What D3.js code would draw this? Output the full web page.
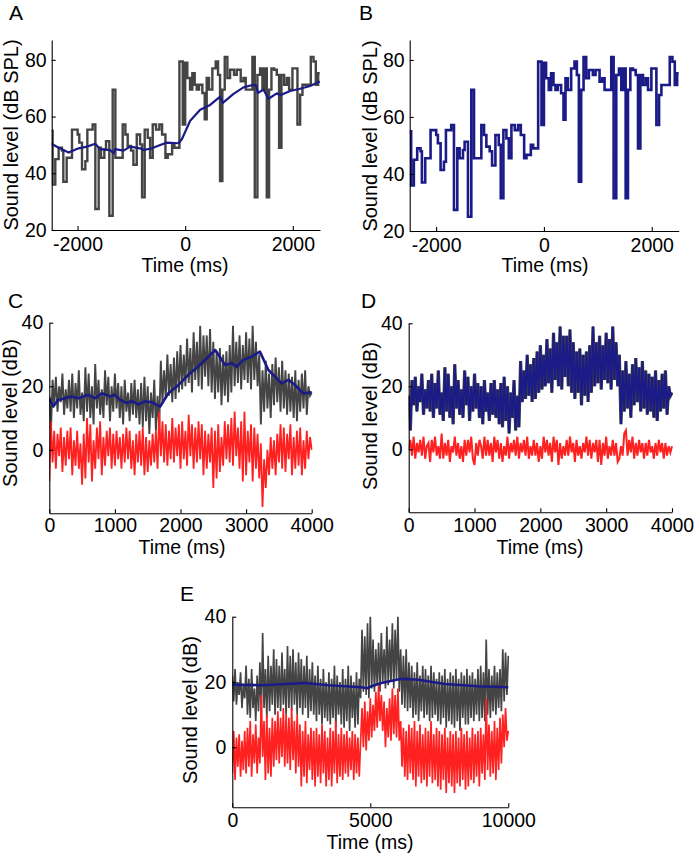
<!DOCTYPE html>
<html><head><meta charset="utf-8">
<script src="https://cdn.jsdelivr.net/npm/d3@7"></script>
<style>body{margin:0;background:#fff} svg{display:block} text{font-family:"Liberation Sans",Arial,sans-serif;}</style>
</head><body><svg id="fig" width="694" height="853"></svg>
<script>
// ---------- DATA ----------
// Panels A/B: stepped stimulus level (start time of each step, ms) and level (dB SPL)
const stepTimes = [-2500,-2463,-2413,-2351,-2289,-2264,-2202,-2103,-1998,-1967,-1917,-1855,-1818,-1719,-1669,-1607,-1564,-1502,-1471,-1409,-1347,-1297,-1161,-1111,-1068,-1006,-962,-900,-838,-801,-752,-696,-652,-603,-541,-479,-429,-367,-324,-243,-200,-107,-45,
  0,40,90,133,177,214,257,319,363,400,443,505,567,611,648,691,735,784,834,908,958,1032,1082,1125,1249,1293,1342,1392,1435,1479,1516,1559,1603,1652,1702,1745,1789,1838,1888,1931,1993,2086,2136,2179,2334,2384,2427,2471,2500];
const stepLevels = [55,36,45,49,48,37,45.5,55.4,53.7,50.8,41.4,44.3,55.4,57.2,27.4,49,45.5,48.4,51.3,25,69.5,45.5,57.2,53.7,49.6,48,43,53.7,50.2,31.5,55.4,52.5,45.5,57.2,55.4,57.2,53.7,45.5,46.7,50.2,49,79.4,57.2,
  79,73.6,69.5,75.3,71.2,69.5,71.2,68.3,59,73.6,69.5,77,79.4,74.7,37.3,69.5,81,73.6,76.5,74.7,76.5,72.4,73.6,69.5,81,31.5,74.7,77,69.5,77,31.5,69.5,77,76.5,74.7,49,74.7,71.2,73.6,69.5,77,57.2,67.7,71.2,81,79.4,71.2,75.3,75.3];
// Panel A: smoothed (adaptation) level
const smoothTimes = [-2500,-2352,-2166,-1980,-1825,-1671,-1579,-1393,-1331,-1300,-1145,-1022,-836,-774,-619,-464,-340,-124,-62,93,279,464,650,700,898,1083,1269,1319,1350,1455,1548,1703,1765,1950,2135,2321,2500];
const smoothLevels = [50.6,49,47.3,48.8,49.4,50.4,48.5,48.2,47,48.5,48,49.4,48.8,48.2,48.8,50,50.8,50.6,52,58.5,62.4,64.1,67,64.8,68,70.3,71.2,71,68.3,69.5,66.3,68.2,67.5,69,69.8,70.8,72.4];

// Panels C/D: sampled every 25 ms, 0..4000 ms
const cdStep = 25;
const cdGray = [17,6,22,14, 23,12,20,15, 24,11,19,13, 22,12,24,10, 21,13,25,11, 18,9,26,12, 24,10,20,8, 27,13,22,11, 19,10,25,14, 23,9,20,12,
  24,13,21,10, 20,8,22,12, 18,9,21,11, 22,10,19,8, 21,7,23,9, 20,5,18,10, 22,6,17,7, 28,15,25,16, 30,17,27,15, 29,16,31,18,
  33,19,30,20, 35,21,32,18, 37,22,34,20, 39,19,36,23, 36,20,38,18, 34,16,31,18, 32,14,30,17, 31,15,33,18, 39,20,34,21, 36,19,33,22,
  37,21,35,19, 39,22,34,20, 30,8,25,12, 28,13,24,10, 27,14,29,15, 26,12,28,13, 25,11,24,12, 23,10,25,9, 22,12,24,13, 25,11,20,17, 18];
const cRed = [-10,9,-4,6, -6,5,-2,7, -7,4,-5,6, -3,7,-8,3, -5,6,-6,2, -11,5,-9,10, -4,8,-10,3, -6,7,-3,9, -8,4,-5,6, -2,7,-6,5,
  -5,6,-3,4, -6,5,-4,7, -3,6,-6,3, -8,5,-4,6, -5,7,-8,4, -7,3,-5,5, -4,6,-6,12, -2,9,-4,8, -5,6,-3,10, -4,7,-2,8,
  -6,9,-3,6, -5,11,-2,8, -6,7,-4,9, -3,8,-8,6, -6,5,-4,7, -12,6,-9,8, -7,4,-5,9, -3,8,-4,10, -5,12,-2,7, -6,9,-10,12,
  -8,6,-4,8, -10,7,-6,5, -9,2,-18,-3, -12,0,-8,4, -6,3,-8,5, -4,8,-6,7, -7,5,-3,8, -8,4,-6,6, -5,7,-8,3, -6,6,-3,4, 0];
const cBlueTimes = [0,60,135,340,440,595,700,800,925,1000,1080,1180,1255,1355,1460,1560,1690,1815,1970,2120,2270,2375,2530,2680,2780,2855,2960,3085,3210,3340,3440,3540,3645,3745,3870,4000];
const cBlueLevels = [16.2,13.6,15.7,16.8,16.2,17.3,16.2,17.8,16.8,17.3,15.7,14.7,15.4,14.3,15.2,15,13.6,17.8,20.4,23.6,26.2,28.3,31.4,26.7,27.2,26.2,28.3,29.3,30.9,25.1,23,20.9,22,20.4,17.8,18.1];
const dRed = [0,3,-2,4, -3,2,-1,3, -2,4,-3,1, 2,-4,3,-1, 4,-2,1,-3, 5,-3,2,-2, 3,-4,1,-1, 4,-2,2,-3, 1,-4,3,-2, 3,-1,4,-3,
  -5,2,-2,3, 1,-3,4,-2, 3,-2,2,-4, 4,-1,3,-3, 2,-4,1,-2, 4,-3,2,-1, 3,-2,4,-3, 2,-1,3,-2, 4,-3,1,-2, 3,-2,2,-4,
  1,-3,4,-1, 3,-2,2,-4, 4,-1,3,-5, 2,-3,1,-2, 3,-2,4,-1, 2,-4,3,-2, 1,-3,2,-1, 4,-2,3,-3, 2,-1,3,-4, 3,-5,2,-2,
  4,-3,1,-2, 3,-2,2,-4, -3,1,-2,5, 6,-2,3,-1, 4,-3,2,-2, 3,-1,2,-3, 2,-2,3,-1, 1,-3,2,-2, 3,-1,2,-3, 2,-2,1,-1, 1];

// Panel E: sampled every 50 ms, 0..10000 ms
const eStep = 50;
const eGray = [22,14,24,13,20,16,23,12,19,15, 25,10,21,9,24,12,18,8,22,11, 26,10,35,12,24,9,28,11,25,13, 30,10,27,12,25,11,29,13,24,10,
  31,12,28,11,30,13,26,10,29,12, 27,10,25,12,28,9,24,11,26,10, 22,8,25,10,21,7,24,9,20,8, 23,7,21,9,25,6,22,10,20,7,
  24,6,21,8,25,5,22,9,20,6, 23,7,21,15,36,17,34,16,38,15, 40,18,33,17,30,19,32,17,35,20, 30,18,37,19,33,20,38,18,36,21,
  40,17,30,13,28,12,30,11,26,12, 25,9,23,10,26,8,22,11,25,9, 24,10,22,8,25,9,23,10,21,8, 23,7,22,9,24,6,21,8,23,7,
  22,6,24,8,21,5,23,9,22,7, 24,7,22,9,23,8,21,10,24,8, 25,9,23,8,33,10,24,9,22,11, 25,10,23,12,24,11,30,14,29,16, 28];
const eRed = [-8,5,-10,3,-6,4,-9,2,-7,5, -8,6,-6,8,-9,4,-5,7,-8,3, -5,16,-3,8,-10,10,-8,6,-9,9, -6,8,-4,11,-5,9,-3,12,-6,10,
  -5,9,-7,12,-4,8,-8,10,-6,7, -12,5,-9,8,-11,4,-7,6,-10,5, -12,6,-9,4,-11,7,-8,5,-12,3, -10,6,-12,5,-8,8,-11,4,-9,6,
  -10,4,-8,5,-9,3,-7,5,-10,4, -8,3,-9,2,12,0,14,-1,11,2, 15,3,13,5,17,6,19,8,16,5, 14,0,12,3,15,2,18,4,16,3,
  18,2,8,-6,6,-9,5,-10,7,-8, 6,-10,8,-12,5,-9,7,-11,4,-10, 6,-12,5,-9,8,-11,4,-10,6,-12, 5,-13,4,-10,6,-14,3,-11,5,-12,
  4,-14,5,-11,3,-12,6,-10,4,-13, 5,-12,3,-10,6,-11,4,-9,5,-12, 6,-8,4,-10,15,-7,7,-9,5,-8, 8,-10,6,-7,9,-5,10,0,12,2, 5];
const eBlueTimes = [0,1050,2620,3470,4680,4900,5040,5400,6125,6730,7700,8900,10000];
const eBlueLevels = [19.2,19,19.7,19,18.4,18.1,18.7,19.7,21,20.7,19.4,18.7,18.4];

// tick values
const ticksAB_x = [-2000, 0, 2000];
const ticksAB_y = [20, 40, 60, 80];
const ticksCD_x = [0, 1000, 2000, 3000, 4000];
const ticksCDE_y = [0, 20, 40];
const ticksE_x = [0, 5000, 10000];

// ---------- DRAWING ----------
const GRAY = "#444444", BLUE = "#1b1b87", RED = "#ff2020";
const FONT = '"Liberation Sans", Arial, sans-serif';
const svg = d3.select("#fig");
let clipId = 0;

function makePanel(cfg) {
  const x = d3.scaleLinear().domain(cfg.xDomain).range(cfg.xRange);
  const y = d3.scaleLinear().domain(cfg.yDomain).range(cfg.yRange);
  const g = svg.append("g");
  const id = "clip" + (clipId++);
  svg.append("clipPath").attr("id", id).append("rect")
    .attr("x", cfg.xRange[0]).attr("y", cfg.yRange[1] - 2)
    .attr("width", cfg.xRange[1] - cfg.xRange[0] + 1)
    .attr("height", cfg.yRange[0] - cfg.yRange[1] + 2);
  const plot = g.append("g").attr("clip-path", `url(#${id})`);
  return {x, y, g, plot, cfg};
}

function drawAxes(p) {
  const {x, y, g, cfg} = p;
  const xa = g.append("g").attr("transform", `translate(0,${cfg.yRange[0]})`)
    .call(d3.axisBottom(x).tickValues(cfg.xTicks).tickSizeInner(-4).tickSizeOuter(0)
      .tickPadding(cfg.xPad).tickFormat(d => String(d)));
  const ya = g.append("g").attr("transform", `translate(${cfg.xRange[0]},0)`)
    .call(d3.axisLeft(y).tickValues(cfg.yTicks).tickSizeInner(-4).tickSizeOuter(0)
      .tickPadding(cfg.yPad).tickFormat(d => String(d)));
  [xa, ya].forEach(a => {
    a.attr("font-size", 19.5).attr("font-family", FONT);
    a.selectAll("path,line").attr("stroke", "#000").attr("stroke-width", 1.1);
    a.selectAll("text").attr("fill", "#000");
  });
  g.append("text").attr("x", cfg.xTitle[0]).attr("y", cfg.xTitle[1])
    .attr("text-anchor", "middle").attr("font-size", 19.5).text("Time (ms)");
  g.append("text").attr("transform", `translate(${cfg.yTitle[0]},${cfg.yTitle[1]}) rotate(-90)`)
    .attr("text-anchor", "middle").attr("font-size", 20).text(cfg.yLabel);
  g.append("text").attr("x", cfg.letter[0]).attr("y", cfg.letter[1])
    .attr("font-size", 21).text(cfg.letter[2]);
}

function stepLine(p, times, levels, color, width) {
  const pts = times.map((t, i) => [t, levels[i]]);
  p.plot.append("path").datum(pts)
    .attr("d", d3.line().x(d => p.x(d[0])).y(d => p.y(d[1])).curve(d3.curveStepAfter))
    .attr("fill", "none").attr("stroke", color).attr("stroke-width", width);
}
function xyLine(p, times, levels, color, width) {
  const pts = times.map((t, i) => [t, levels[i]]);
  p.plot.append("path").datum(pts)
    .attr("d", d3.line().x(d => p.x(d[0])).y(d => p.y(d[1])))
    .attr("fill", "none").attr("stroke", color).attr("stroke-width", width)
    .attr("stroke-linejoin", "round");
}
function sampledLine(p, values, dt, color, width) {
  const pts = values.map((v, i) => [i * dt, v]);
  p.plot.append("path").datum(pts)
    .attr("d", d3.line().x(d => p.x(d[0])).y(d => p.y(d[1])))
    .attr("fill", "none").attr("stroke", color).attr("stroke-width", width)
    .attr("stroke-linejoin", "miter");
}

// Panel A
const A = makePanel({xDomain: [-2480, 2505], xRange: [51.7, 320], yDomain: [20, 87], yRange: [230, 40],
  xTicks: ticksAB_x, yTicks: ticksAB_y, xPad: 7, yPad: 5, xTitle: [185, 272], yTitle: [18, 135],
  yLabel: "Sound level (dB SPL)", letter: [9, 20, "A"]});
stepLine(A, stepTimes, stepLevels, GRAY, 2.4);
xyLine(A, smoothTimes, smoothLevels, BLUE, 2.2);
drawAxes(A);

// Panel B
const B = makePanel({xDomain: [-2490, 2500], xRange: [409.7, 678.7], yDomain: [20, 87], yRange: [231, 40],
  xTicks: ticksAB_x, yTicks: ticksAB_y, xPad: 7, yPad: 5, xTitle: [545, 272], yTitle: [377, 136],
  yLabel: "Sound level (dB SPL)", letter: [359, 20, "B"]});
stepLine(B, stepTimes, stepLevels, BLUE, 2.6);
drawAxes(B);

// Panel C
const C = makePanel({xDomain: [0, 4000], xRange: [49.3, 311.7], yDomain: [-20, 40], yRange: [513.3, 322.7],
  xTicks: ticksCD_x, yTicks: ticksCDE_y, xPad: 5, yPad: 6, xTitle: [182, 554], yTitle: [17, 413],
  yLabel: "Sound level (dB)", letter: [8, 308, "C"]});
sampledLine(C, cdGray, cdStep, GRAY, 1.9);
sampledLine(C, cRed, cdStep, RED, 1.8);
xyLine(C, cBlueTimes, cBlueLevels, BLUE, 2.6);
drawAxes(C);

// Panel D
const D = makePanel({xDomain: [0, 4000], xRange: [408.7, 672], yDomain: [-20, 40], yRange: [512.3, 323.3],
  xTicks: ticksCD_x, yTicks: ticksCDE_y, xPad: 6, yPad: 6, xTitle: [540, 554], yTitle: [377, 416],
  yLabel: "Sound level (dB)", letter: [361, 308, "D"]});
sampledLine(D, cdGray, cdStep, GRAY, 3.2);
sampledLine(D, cdGray, cdStep, BLUE, 1.9);
sampledLine(D, dRed, cdStep, RED, 2);
drawAxes(D);

// Panel E
const E = makePanel({xDomain: [0, 10000], xRange: [232.3, 508.3], yDomain: [-18.4, 40], yRange: [807.3, 616.7],
  xTicks: ticksE_x, yTicks: ticksCDE_y, xPad: 6, yPad: 6, xTitle: [370, 849], yTitle: [197, 710],
  yLabel: "Sound level (dB)", letter: [180, 601, "E"]});
sampledLine(E, eGray, eStep, GRAY, 1.7);
sampledLine(E, eRed, eStep, RED, 1.7);
xyLine(E, eBlueTimes, eBlueLevels, BLUE, 2.6);
drawAxes(E);
</script></body></html>
